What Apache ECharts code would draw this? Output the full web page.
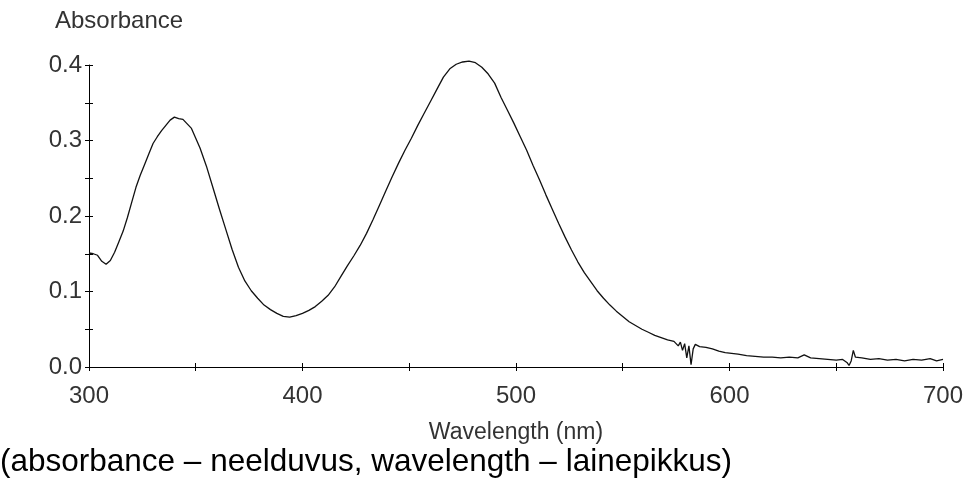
<!DOCTYPE html>
<html>
<head>
<meta charset="utf-8">
<title>Absorbance spectrum</title>
<script src="https://cdn.jsdelivr.net/npm/echarts@6/dist/echarts.min.js"></script>
<style>
  html, body { margin: 0; padding: 0; background: #fff; }
  #chart { width: 966px; height: 486px; }
</style>
</head>
<body>
<div id="chart"></div>
<script>
// wavelength (nm) and absorbance
var wavelength = [
  300, 302, 304, 306, 308, 310, 312, 314, 316, 318, 320, 322, 324, 326, 328, 330,
  332, 334, 336, 338, 340, 342, 344, 346, 348, 350, 352, 355, 358, 361, 364, 367,
  370, 373, 376, 379, 382, 385, 388, 391, 394, 397, 400, 403, 406, 409, 412, 415,
  418, 421, 424, 427, 430, 433, 436, 439, 442, 445, 448, 451, 454, 457, 460, 463,
  466, 469, 472, 475, 478, 481, 484, 487, 490, 493, 496, 499, 502, 505, 508, 511,
  514, 517, 520, 523, 526, 529, 532, 535, 538, 541, 544, 547, 550, 553, 556, 559,
  562, 565, 568, 571, 574, 576, 577, 578, 579, 580, 581, 582, 583, 584, 586, 589,
  592, 595, 598, 601, 604, 608, 612, 616, 620, 624, 628, 632, 635, 638, 642, 646,
  650, 653, 655, 656, 657, 658, 659, 662, 666, 670, 674, 678, 682, 686, 690, 694,
  697, 700
];
var absorbance = [
  0.151, 0.150, 0.148, 0.140, 0.136, 0.141, 0.152, 0.166, 0.180, 0.198, 0.218, 0.238, 0.254, 0.268, 0.282, 0.296,
  0.305, 0.313, 0.320, 0.327, 0.331, 0.329, 0.328, 0.322, 0.316, 0.303, 0.290, 0.266, 0.238, 0.210, 0.183, 0.156,
  0.132, 0.114, 0.101, 0.091, 0.082, 0.076, 0.071, 0.067, 0.066, 0.068, 0.071, 0.075, 0.080, 0.087, 0.095, 0.106,
  0.120, 0.134, 0.147, 0.161, 0.177, 0.195, 0.214, 0.233, 0.252, 0.270, 0.287, 0.303, 0.320, 0.336, 0.352, 0.368,
  0.384, 0.395, 0.401, 0.404, 0.405, 0.403, 0.397, 0.388, 0.376, 0.357, 0.340, 0.323, 0.305, 0.287, 0.267, 0.248,
  0.228, 0.209, 0.190, 0.172, 0.155, 0.139, 0.125, 0.113, 0.101, 0.091, 0.082, 0.074, 0.067, 0.060, 0.055, 0.050,
  0.046, 0.042, 0.039, 0.036, 0.034, 0.028, 0.033, 0.022, 0.031, 0.012, 0.028, 0.003, 0.024, 0.030, 0.027, 0.026,
  0.024, 0.021, 0.019, 0.018, 0.017, 0.015, 0.014, 0.013, 0.013, 0.012, 0.013, 0.012, 0.016, 0.012, 0.011, 0.010,
  0.009, 0.010, 0.006, 0.002, 0.008, 0.022, 0.013, 0.012, 0.010, 0.011, 0.009, 0.010, 0.008, 0.010, 0.009, 0.011,
  0.008, 0.010
];
var xLabels = [300, 400, 500, 600, 700];
var yLabels = ['0.0', '0.1', '0.2', '0.3', '0.4'];

var chart = echarts.init(document.getElementById('chart'));

var points = wavelength.map(function (w, i) { return [w, absorbance[i]]; });
var font = 'Liberation Sans, Arial, sans-serif';
var lineStyle = { color: '#000', width: 1 };

var option = {
  backgroundColor: '#fff',
  animation: false,
  grid: { left: 89, right: 23, top: 65, bottom: 119, containLabel: false },
  graphic: [
    {
      type: 'text', left: 55, top: 9,
      style: { text: 'Absorbance', fontFamily: font, fontSize: 24, fill: '#333' }
    },
    {
      type: 'text', left: 0, top: 446,
      style: {
        text: '(absorbance \u2013 neelduvus, wavelength \u2013 lainepikkus)',
        fontFamily: font, fontSize: 31.5, fill: '#000'
      }
    }
  ],
  xAxis: [
    {
      type: 'value', min: 300, max: 700, interval: 50,
      name: 'Wavelength (nm)', nameLocation: 'middle', nameGap: 54,
      nameTextStyle: { fontFamily: font, fontSize: 23, color: '#333' },
      axisLine: { lineStyle: lineStyle },
      axisTick: { show: true, length: 4, lineStyle: lineStyle },
      axisLabel: {
        margin: 17, fontFamily: font, fontSize: 24, color: '#333',
        formatter: function (v) { return xLabels.indexOf(v) >= 0 ? String(v) : ''; }
      },
      splitLine: { show: false }
    },
    {
      type: 'value', min: 300, max: 700, interval: 50, position: 'bottom',
      axisLine: { show: false },
      axisTick: { show: true, inside: true, length: 4, lineStyle: lineStyle },
      axisLabel: { show: false },
      splitLine: { show: false }
    }
  ],
  yAxis: [
    {
      type: 'value', min: 0, max: 0.4, interval: 0.05,
      axisLine: { show: true, lineStyle: lineStyle },
      axisTick: { show: true, length: 4, lineStyle: lineStyle },
      axisLabel: {
        margin: 7, fontFamily: font, fontSize: 24, color: '#333',
        formatter: function (v) {
          var k = Math.round(v * 20);
          return k % 2 === 0 ? yLabels[k / 2] : '';
        }
      },
      splitLine: { show: false }
    },
    {
      type: 'value', min: 0, max: 0.4, interval: 0.05, position: 'left',
      axisLine: { show: false },
      axisTick: { show: true, inside: true, length: 4, lineStyle: lineStyle },
      axisLabel: { show: false },
      splitLine: { show: false }
    }
  ],
  series: [{
    type: 'line',
    xAxisIndex: 0,
    yAxisIndex: 0,
    data: points,
    clip: false,
    showSymbol: false,
    symbol: 'none',
    smooth: false,
    lineStyle: { color: '#111', width: 1.3 }
  }]
};

chart.setOption(option);
</script>
</body>
</html>
